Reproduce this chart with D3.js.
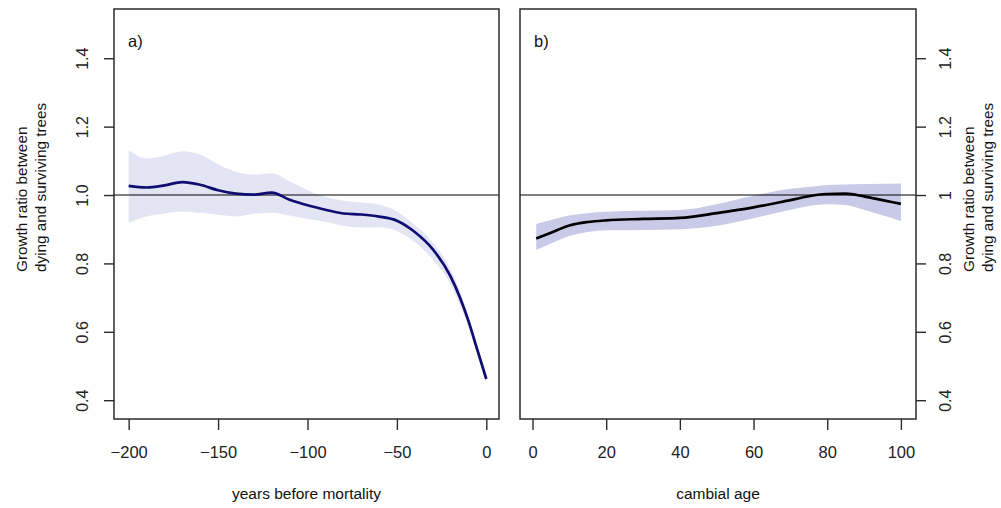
<!doctype html>
<html lang="en">
  <head>
    <meta charset="utf-8">
    <title>Growth ratio between dying and surviving trees</title>
    <script src="https://d3js.org/d3.v7.min.js"></script>
    <style>
      body { margin: 0; background: #fff; }
      svg { font-family: 'Liberation Sans', Arial, sans-serif; }
      .tick line { stroke: #2b2b2b; stroke-width: 1.4; }
      .tick text { fill: #222; }
    </style>
  </head>
  <body>
    <div class='visholder'></div>
    <script>
      // panel a) years before mortality
      const yearsA = [-200, -190, -180, -170, -160, -150, -140, -130, -120, -110, -100, -90, -80, -70, -60, -50, -40, -30, -20, -10, -5, 0];
      const fitA   = [1.027, 1.022, 1.028, 1.038, 1.030, 1.014, 1.004, 1.001, 1.007, 0.986, 0.970, 0.957, 0.946, 0.943, 0.937, 0.925, 0.892, 0.842, 0.762, 0.632, 0.547, 0.462];
      const upperA = [1.132, 1.107, 1.115, 1.128, 1.118, 1.090, 1.068, 1.060, 1.064, 1.040, 1.014, 0.995, 0.983, 0.978, 0.972, 0.952, 0.912, 0.862, 0.783, 0.647, 0.558, 0.474];
      const lowerA = [0.919, 0.937, 0.946, 0.952, 0.948, 0.942, 0.937, 0.945, 0.948, 0.940, 0.930, 0.922, 0.910, 0.905, 0.906, 0.895, 0.862, 0.812, 0.738, 0.612, 0.532, 0.448];

      // panel b) cambial age
      const ageB   = [1, 5, 10, 15, 20, 30, 40, 50, 60, 70, 77, 80, 85, 90, 95, 100];
      const fitB   = [0.873, 0.890, 0.911, 0.921, 0.926, 0.930, 0.933, 0.947, 0.964, 0.985, 1.000, 1.003, 1.004, 0.996, 0.985, 0.974];
      const upperB = [0.915, 0.927, 0.940, 0.947, 0.951, 0.954, 0.956, 0.973, 0.998, 1.018, 1.026, 1.029, 1.031, 1.032, 1.033, 1.034];
      const lowerB = [0.839, 0.858, 0.880, 0.892, 0.897, 0.898, 0.900, 0.910, 0.932, 0.957, 0.971, 0.973, 0.971, 0.957, 0.941, 0.924];

      const yTicks = [0.4, 0.6, 0.8, 1.0, 1.2, 1.4];
      const xTicksA = [-200, -150, -100, -50, 0];
      const xTicksB = [0, 20, 40, 60, 80, 100];

      const w = 1001;
      const h = 508;
      const plotTop = 9, plotBottom = 419;

      const svg = d3.select('.visholder')
          .append('svg')
          .attr('width', w)
          .attr('height', h)

      const yScale = d3.scaleLinear()
          .domain([0.345, 1.544])
          .range([plotBottom, plotTop])

      function drawPanel(opts) {
        const xScale = d3.scaleLinear()
            .domain(opts.domain)
            .range([opts.left, opts.right])

        const rows = opts.x.map((d, i) => ({x: d, fit: opts.fit[i], lo: opts.lower[i], hi: opts.upper[i]}))

        // confidence band
        const area = d3.area()
            .x(d => xScale(d.x))
            .y0(d => yScale(d.lo))
            .y1(d => yScale(d.hi))
            .curve(d3.curveMonotoneX)
        svg.append('path')
            .datum(rows)
            .attr('d', area)
            .attr('fill', opts.band)

        // reference line at 1
        svg.append('line')
            .attr('x1', opts.left).attr('x2', opts.right)
            .attr('y1', yScale(1)).attr('y2', yScale(1))
            .attr('stroke', '#000')
            .attr('stroke-width', 1.2)

        // fitted curve
        const line = d3.line()
            .x(d => xScale(d.x))
            .y(d => yScale(d.fit))
            .curve(d3.curveMonotoneX)
        svg.append('path')
            .datum(rows)
            .attr('d', line)
            .attr('fill', 'none')
            .attr('stroke', opts.lineColor)
            .attr('stroke-width', 2.7)

        // box
        svg.append('rect')
            .attr('x', opts.left).attr('y', plotTop)
            .attr('width', opts.right - opts.left).attr('height', plotBottom - plotTop)
            .attr('fill', 'none')
            .attr('stroke', '#2b2b2b')
            .attr('stroke-width', 1.5)

        // x axis
        const xAxis = d3.axisBottom(xScale).tickValues(opts.xTicks).tickSize(11).tickSizeOuter(0)
        const gx = svg.append('g')
            .attr('transform', 'translate(0,' + plotBottom + ')')
            .call(xAxis)
        gx.select('.domain').remove()
        gx.selectAll('text')
            .attr('y', 39).attr('dy', 0)
            .style('font-size', '16.5px')

        // y axis, left or right
        const yAxis = (opts.yRight ? d3.axisRight(yScale) : d3.axisLeft(yScale))
            .tickValues(yTicks).tickSize(10).tickSizeOuter(0)
            .tickFormat(opts.yFormat)
        const gy = svg.append('g')
            .attr('transform', 'translate(' + (opts.yRight ? opts.right : opts.left) + ',0)')
            .call(yAxis)
        gy.select('.domain').remove()
        gy.selectAll('text')
            .attr('transform', 'rotate(-90)')
            .attr('x', 0).attr('dy', 0)
            .attr('y', opts.yRight ? 35 : -26)
            .attr('text-anchor', 'middle')
            .style('font-size', '16px')

        // panel label
        svg.append('text')
            .attr('x', opts.left + 14)
            .attr('y', 47)
            .style('font-size', '16.5px')
            .attr('fill', '#111')
            .text(opts.label)

        // x title
        svg.append('text')
            .attr('x', (opts.left + opts.right) / 2)
            .attr('y', 499)
            .attr('text-anchor', 'middle')
            .style('font-size', '15.5px')
            .attr('fill', '#111')
            .text(opts.xTitle)

        // y title (two lines)
        const titleLines = ['Growth ratio between', 'dying and surviving trees']
        titleLines.forEach((t, i) => {
          svg.append('text')
              .attr('transform', 'translate(' + opts.yTitleX[i] + ',272) rotate(-90)')
              .attr('text-anchor', 'start')
              .style('font-size', '15.3px')
              .attr('fill', '#111')
              .text(t)
        })
      }

      drawPanel({
        left: 114, right: 499, domain: [-208.2, 7.1],
        x: yearsA, fit: fitA, upper: upperA, lower: lowerA,
        band: '#e4e5f4', lineColor: '#0d0d72',
        xTicks: xTicksA, yRight: false, yFormat: d3.format('.1f'),
        label: 'a)', xTitle: 'years before mortality', yTitleX: [27, 46]
      })

      drawPanel({
        left: 520, right: 916, domain: [-3.4, 104.1],
        x: ageB, fit: fitB, upper: upperB, lower: lowerB,
        band: '#c9c9e8', lineColor: '#000',
        xTicks: xTicksB, yRight: true, yFormat: d3.format('~g'),
        label: 'b)', xTitle: 'cambial age', yTitleX: [974, 993]
      })
    </script>
  </body>
</html>
